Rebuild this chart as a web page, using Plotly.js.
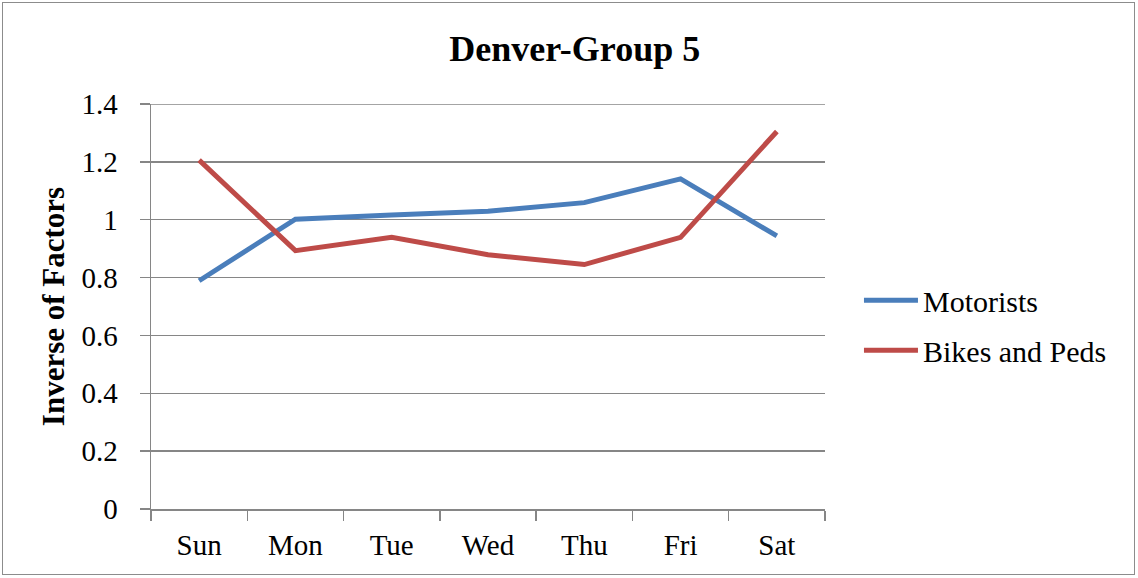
<!DOCTYPE html>
<html>
<head>
<meta charset="utf-8">
<script src="https://cdn.plot.ly/plotly-3.0.1.min.js"></script>
<style>
html,body{margin:0;padding:0;background:#fff;}
#wrap{position:relative;width:1138px;height:578px;}
#chart{width:1138px;height:578px;}
#frame{position:absolute;left:2px;top:2px;width:1133px;height:573px;border:1.5px solid #8c8c8c;box-sizing:border-box;pointer-events:none;}
</style>
</head>
<body>
<div id="wrap"><div id="chart"></div><div id="frame"></div></div>
<script>
const days = ["Sun", "Mon", "Tue", "Wed", "Thu", "Fri", "Sat"];
const motorists = [0.789, 1.002, 1.016, 1.029, 1.059, 1.141, 0.944];
const bikesAndPeds = [1.206, 0.893, 0.939, 0.879, 0.845, 0.939, 1.305];
const yTicks = [0, 0.2, 0.4, 0.6, 0.8, 1, 1.2, 1.4];
const yTickText = ["0", "0.2", "0.4", "0.6", "0.8", "1", "1.2", "1.4"];
const yMax = 1.4;

const font = "Liberation Serif, Times New Roman, serif";
const traces = [
  {x: days, y: motorists, name: "Motorists", type: "scatter", mode: "lines", legendgroup: "m",
   line: {color: "#4A7EBB", width: 5}},
  {x: days, y: bikesAndPeds, name: "Bikes and Peds", type: "scatter", mode: "lines", legendgroup: "b",
   line: {color: "#BE4B48", width: 5}}
];
const layout = {
  width: 1138, height: 578,
  margin: {l: 151, r: 313, t: 104, b: 69},
  paper_bgcolor: "#fff", plot_bgcolor: "#fff",
  font: {family: font, color: "#000", size: 29},
  title: {text: "<b>Denver-Group 5</b>", font: {family: font, size: 36, color: "#000"},
          x: 0.505, xanchor: "center", y: 0.916, yanchor: "middle", xref: "container", yref: "container"},
  xaxis: {type: "category", tickson: "boundaries", ticks: "outside", ticklen: 10, tickwidth: 1.5,
          tickcolor: "#868686", showline: true, linecolor: "#868686", linewidth: 1.5,
          showgrid: false, zeroline: false, tickfont: {size: 29, family: font},
          ticklabelstandoff: 10, range: [-0.5, 6.5], fixedrange: true},
  yaxis: {range: [0, yMax], tickvals: yTicks, ticktext: yTickText, ticks: "outside", ticklen: 10,
          tickwidth: 1.5, tickcolor: "#868686", showline: true, linecolor: "#868686", linewidth: 1.5,
          showgrid: true, gridcolor: "#868686", gridwidth: 1.5, zeroline: false,
          tickfont: {size: 29, family: font}, ticklabelstandoff: 16,
          title: {text: "<b>Inverse of Factors</b>", font: {size: 31, family: font}, standoff: 7},
          fixedrange: true},
  shapes: [{type: "line", xref: "paper", yref: "y", x0: 0, x1: 1, y0: yMax, y1: yMax,
            line: {color: "#868686", width: 1.5}, layer: "below"}],
  legend: {x: 1.0504, xanchor: "left", y: 0.454, yanchor: "middle", font: {size: 30, family: font},
           bgcolor: "rgba(0,0,0,0)", tracegroupgap: 8, itemwidth: 54},
  showlegend: true
};
Plotly.newPlot("chart", traces, layout, {staticPlot: true, displayModeBar: false});
</script>
</body>
</html>
